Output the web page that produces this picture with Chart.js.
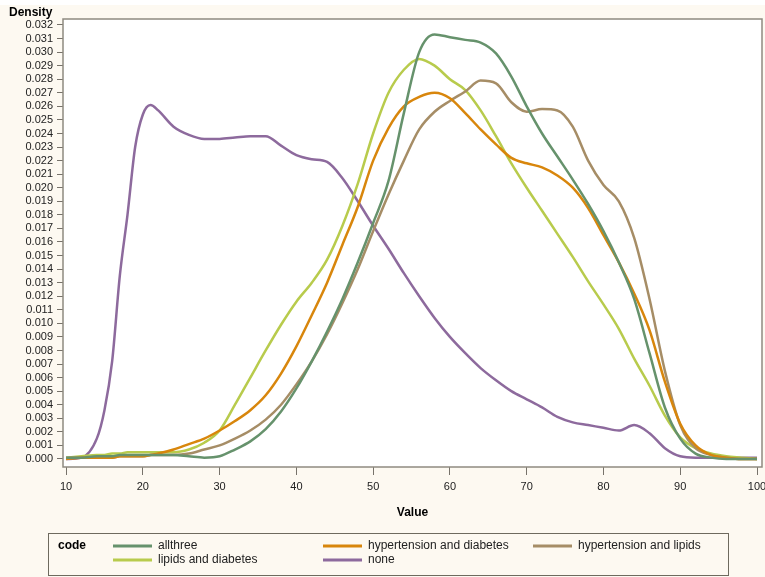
<!DOCTYPE html>
<html>
<head>
<meta charset="utf-8">
<script src="https://cdn.jsdelivr.net/npm/chart.js@4.4.1/dist/chart.umd.min.js"></script>
<style>
  html, body { margin: 0; padding: 0; background: #fdf9f1; }
  canvas { display: block; }
</style>
</head>
<body>
<canvas id="chart1" width="765" height="577"></canvas>
<script>
// age values the densities were read at
var ages = [10,12,14,15,16,17,18,19,20,21,22,24,26,28,30,32,34,36,38,40,42,44,46,48,50,52,54,56,58,60,62,64,66,68,70,72,74,76,78,80,82,84,86,88,90,92,94,96,98,100];

var allthree = [0.0001,0.0001,0.0002,0.0002,0.0002,0.0003,0.0003,0.0003,0.0003,0.0003,0.0003,
  0.0003,0.0002,0.0001,0.0002,0.0007,0.0013,0.0022,0.0035,0.0052,0.0072,0.0094,0.0118,0.0145,0.0174,
  0.0205,0.0255,0.0300,0.0313,0.0311,0.0309,0.0307,0.0299,0.0282,0.0260,0.0240,0.0223,0.0206,0.0188,
  0.0168,0.0145,0.0118,0.0078,0.0038,0.0015,0.0004,0.0001,0.0000,0.0000,0.0000];

var hypDiab = [0.0000,0.0001,0.0001,0.0001,0.0001,0.0002,0.0002,0.0002,0.0002,0.0003,0.0004,
  0.0007,0.0011,0.0015,0.0021,0.0028,0.0036,0.0047,0.0063,0.0083,0.0106,0.0130,0.0158,0.0186,0.0220,
  0.0244,0.0260,0.0267,0.0270,0.0266,0.0255,0.0243,0.0232,0.0222,0.0218,0.0215,0.0209,0.0200,0.0185,
  0.0165,0.0145,0.0122,0.0095,0.0057,0.0026,0.0010,0.0003,0.0001,0.0000,0.0000];

var hypLip = [0.0001,0.0001,0.0001,0.0001,0.0001,0.0002,0.0002,0.0002,0.0002,0.0003,0.0003,
  0.0003,0.0004,0.0007,0.0010,0.0015,0.0021,0.0029,0.0040,0.0055,0.0072,0.0092,0.0115,0.0140,0.0168,
  0.0195,0.0220,0.0243,0.0256,0.0264,0.0271,0.0279,0.0277,0.0263,0.0256,0.0258,0.0257,0.0245,0.0220,
  0.0202,0.0190,0.0163,0.0118,0.0065,0.0025,0.0008,0.0003,0.0001,0.0000,0.0000];

var lipDiab = [0.0001,0.0002,0.0003,0.0003,0.0004,0.0004,0.0005,0.0005,0.0005,0.0005,0.0005,
  0.0005,0.0007,0.0012,0.0021,0.0040,0.0060,0.0080,0.0099,0.0116,0.0130,0.0147,0.0172,0.0203,0.0240,
  0.0270,0.0287,0.0295,0.0290,0.0280,0.0272,0.0257,0.0238,0.0218,0.0200,0.0183,0.0166,0.0149,0.0131,
  0.0114,0.0096,0.0074,0.0054,0.0032,0.0016,0.0008,0.0004,0.0002,0.0001,0.0000];

var none = [0.0000,0.0001,0.0015,0.0036,0.0072,0.0135,0.0180,0.0230,0.0254,0.0261,0.0257,
  0.0245,0.0239,0.0236,0.0236,0.0237,0.0238,0.0238,0.0231,0.0224,0.0221,0.0219,0.0207,0.0190,0.0172,
  0.0155,0.0137,0.0120,0.0104,0.0090,0.0078,0.0067,0.0058,0.0050,0.0044,0.0038,0.0031,0.0027,0.0025,
  0.0023,0.0021,0.0025,0.0019,0.0008,0.0002,0.0001,0.0001,0.0001,0.0001,0.0001];

var codes = ["allthree", "hypertension and diabetes", "hypertension and lipids", "lipids and diabetes", "none"];
var series = [allthree, hypDiab, hypLip, lipDiab, none];
var colors = ["#66926c", "#d8860c", "#a68d66", "#b8cb4c", "#8d6a9d"];

var xTicks = [10,20,30,40,50,60,70,80,90,100];
var yTicks = [];
for (var i = 0; i <= 32; i++) yTicks.push(i / 1000);

Chart.defaults.font.family = "'Liberation Sans', Arial, sans-serif";

function toPoints(vals) {
    return ages.map(function (a, i) { return {x: a, y: vals[i]}; });
}

// background, plot frame, y title and the code legend
var sasFrame = {
    id: "sasFrame",
    beforeDraw: function (chart) {
        var ctx = chart.ctx, a = chart.chartArea;
        ctx.save();
        ctx.fillStyle = "#fdf9f1";
        ctx.fillRect(0, 0, chart.width, chart.height);
        ctx.fillStyle = "#ffffff";
        ctx.fillRect(0, 0, chart.width, 5);
        ctx.fillRect(a.left, a.top, a.right - a.left, a.bottom - a.top);
        ctx.restore();
    },
    afterDraw: function (chart) {
        var ctx = chart.ctx, a = chart.chartArea;
        ctx.save();
        ctx.strokeStyle = "#8f8a80";
        ctx.lineWidth = 1.5;
        ctx.strokeRect(a.left, a.top, a.right - a.left, a.bottom - a.top);

        ctx.fillStyle = "#000";
        ctx.font = "bold 12px 'Liberation Sans Narrow', 'Liberation Sans', Arial";
        ctx.textBaseline = "middle";
        ctx.textAlign = "left";
        ctx.fillText("Density", 9, 13);

        // legend
        ctx.strokeStyle = "#6e6a5e";
        ctx.lineWidth = 1;
        ctx.strokeRect(48.5, 533.5, 680, 42);
        ctx.font = "bold 12px 'Liberation Sans', Arial";
        ctx.fillStyle = "#000";
        ctx.fillText("code", 58, 546);
        var colX = [113, 323, 533], rowY = [546, 560];
        ctx.font = "12px 'Liberation Sans', Arial";
        codes.forEach(function (c, k) {
            var x = colX[k % 3], y = rowY[Math.floor(k / 3)];
            ctx.strokeStyle = colors[k];
            ctx.lineWidth = 3;
            ctx.beginPath();
            ctx.moveTo(x, y);
            ctx.lineTo(x + 39, y);
            ctx.stroke();
            ctx.fillStyle = "#222";
            ctx.fillText(c, x + 45, y);
        });
        ctx.restore();
    }
};

var ctx_chart1 = document.getElementById("chart1").getContext("2d");
var chart1 = new Chart(ctx_chart1, {
    type: "line",
    data: {
        datasets: codes.map(function (c, k) {
            return {
                label: c,
                data: toPoints(series[k]),
                borderColor: colors[k],
                borderWidth: 2.5,
                pointRadius: 0,
                fill: false,
                cubicInterpolationMode: "monotone"
            };
        })
    },
    options: {
        responsive: false,
        animation: false,
        layout: { padding: { top: 19, right: 3, left: 0, bottom: 44 } },
        plugins: {
            legend: { display: false },
            tooltip: { enabled: false }
        },
        scales: {
            x: {
                type: "linear",
                min: 9.6,
                max: 100.65,
                afterBuildTicks: function (s) {
                    s.ticks = xTicks.map(function (v) { return {value: v}; });
                },
                afterFit: function (s) {
                    s.height = 66;
                    s.paddingLeft = 0;
                    s.paddingRight = 0;
                },
                grid: { drawOnChartArea: false, drawTicks: true, tickLength: 8, color: "#77726a" },
                border: { display: false },
                ticks: { color: "#222", font: { size: 11 }, padding: 5, maxRotation: 0, autoSkip: false },
                title: {
                    display: true,
                    text: "Value",
                    color: "#000",
                    font: { size: 12, weight: "bold", family: "'Liberation Sans Narrow', 'Liberation Sans', Arial" },
                    padding: { top: 0, bottom: 13 }
                }
            },
            y: {
                min: -0.00059,
                max: 0.03244,
                afterBuildTicks: function (s) {
                    s.ticks = yTicks.map(function (v) { return {value: v}; });
                },
                afterFit: function (s) { s.width = 63; },
                grid: { drawOnChartArea: false, drawTicks: true, tickLength: 6, color: "#77726a" },
                border: { display: false },
                ticks: {
                    color: "#222",
                    font: { size: 11 },
                    padding: 4,
                    autoSkip: false,
                    callback: function (v) { return Number(v).toFixed(3); }
                }
            }
        }
    },
    plugins: [sasFrame]
});
</script>
</body>
</html>
